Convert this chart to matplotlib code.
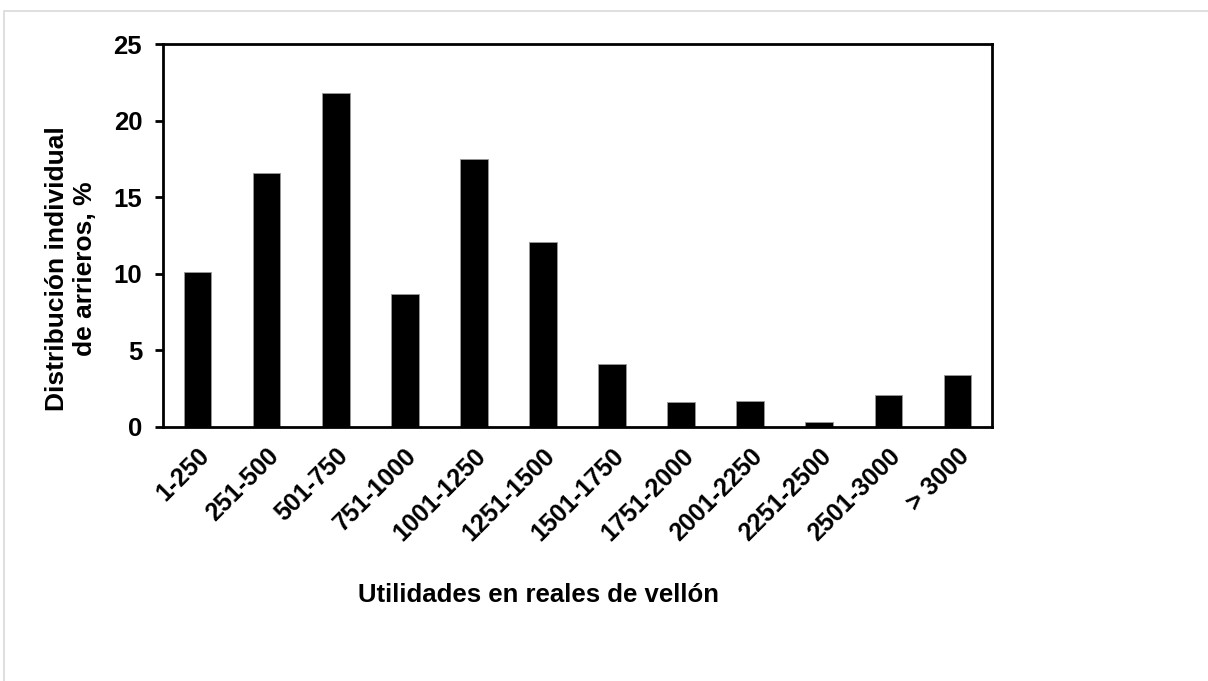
import matplotlib

matplotlib.use("Agg")
import matplotlib.pyplot as plt
from matplotlib.patches import Rectangle

plt.rcParams["font.family"] = ["Liberation Sans", "DejaVu Sans"]
plt.rcParams["font.weight"] = "bold"
plt.rcParams["axes.labelweight"] = "bold"

# Utilidades (reales de vellón) -> % of arrieros
categories = [
    "1-250", "251-500", "501-750", "751-1000", "1001-1250", "1251-1500",
    "1501-1750", "1751-2000", "2001-2250", "2251-2500", "2501-3000", "> 3000",
]
percent = [10.1, 16.6, 21.8, 8.7, 17.5, 12.1, 4.1, 1.6, 1.7, 0.3, 2.1, 3.4]
y_ticks = [0, 5, 10, 15, 20, 25]

fig = plt.figure(figsize=(12.08, 6.81), dpi=100)
# light frame around the chart area
fig.patches.append(Rectangle((4 / 1208, -0.1), 1.2, (681 - 11) / 681 + 0.1,
                             transform=fig.transFigure, fill=False,
                             edgecolor="#d9d9d9", linewidth=1.2))

ax = fig.add_axes([163 / 1208, 1 - 427 / 681, (992 - 163) / 1208, (427 - 44) / 681])
x = range(len(categories))
ax.bar(x, percent, width=0.4, color="black", edgecolor="#999999", linewidth=0.6)

ax.set_xlim(-0.5, len(categories) - 0.5)
ax.set_ylim(0, 25)
ax.set_yticks(y_ticks)
ax.set_xticks(list(x))
ax.set_xticklabels(categories, rotation=45, ha="right", rotation_mode="anchor", fontsize=18)
ax.tick_params(axis="y", labelsize=18.5, width=2, length=6, direction="out", pad=9)
ax.tick_params(axis="x", length=0, pad=12)
for side in ax.spines.values():
    side.set_linewidth(2)

ax.set_ylabel("Distribución individual\nde arrieros, %", fontsize=19)
ax.set_xlabel("Utilidades en reales de vellón", fontsize=18.5)
ax.yaxis.set_label_coords((71 - 163) / 829, (427 - 269) / 383)
ax.xaxis.set_label_coords((539 - 163) / 829, -(595 - 427) / 383)
ax.xaxis.label.set_va("center")
ax.yaxis.label.set_va("center")

fig.savefig("out.png", dpi=100)
